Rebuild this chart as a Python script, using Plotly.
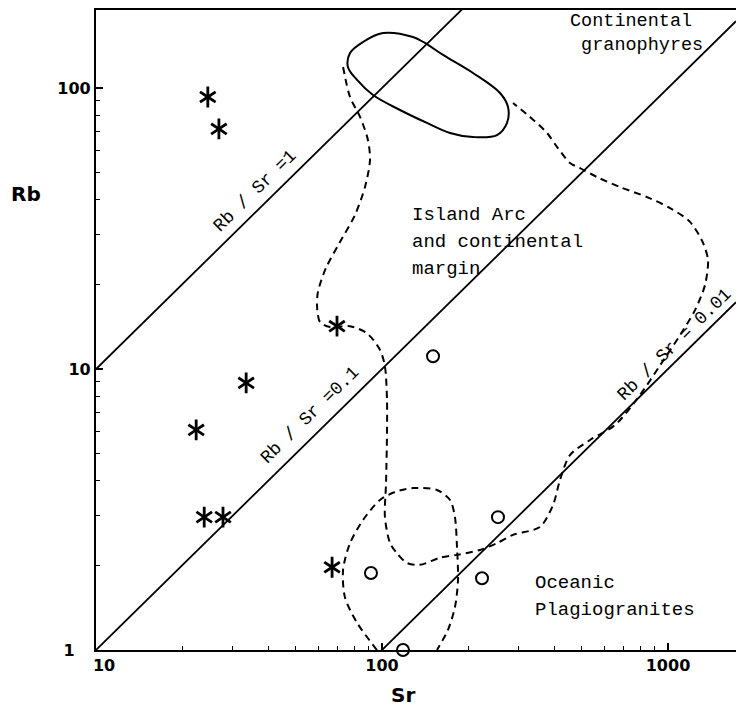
import plotly.graph_objects as go

# ---- data -------------------------------------------------------------
# Granite samples plotted as asterisks (Sr, Rb in ppm)
star_sr = [24.6, 26.9, 69.6, 33.5, 22.4, 23.9, 27.8, 66.9]
star_rb = [92.9, 71.5, 14.2, 8.92, 6.07, 2.97, 2.97, 1.97]

# Samples plotted as open circles
circ_sr = [150.8, 91.5, 254.4, 223.7, 118.4]
circ_rb = [11.1, 1.88, 2.97, 1.80, 1.00]

# Constant Rb/Sr reference lines
ratios = [1, 0.1, 0.01]
ratio_labels = ["Rb / Sr =1", "Rb / Sr =0.1", "Rb / Sr = 0.01"]

# Axis ticks
x_ticks = [10, 100, 1000]
x_tick_text = ["\u2002\u200210", "100", "1000"]
y_ticks = [1, 10, 100]
y_tick_text = ["1\u2002\u2002", "10", "100"]

# Field outline: continental granophyres (closed, solid)
gran_sr = [100.8, 128.3, 141.3, 163.5, 208.1, 258.6, 275.8, 273.6, 252.5, 208.1,
           172.9, 143.6, 115.6, 93.0, 81.8, 76.0, 77.3, 85.8, 100.8]
gran_rb = [156.9, 151.9, 144.6, 131.1, 113.1, 96.0, 85.6, 75.1, 68.0, 66.9,
           69.2, 75.1, 83.5, 94.4, 106.8, 118.8, 133.2, 145.8, 156.9]

# Field outline: island arc and continental margin (dashed)
arc_sr = [73.1, 77.3, 83.8, 89.3, 90.8, 87.2, 80.4, 71.3, 63.7, 59.7, 59.3, 60.7,
          65.8, 77.3, 88.6, 98.4, 102.4, 104.1, 104.1, 103.3, 102.4, 106.7, 112.8,
          122.3, 135.8, 159.5, 182.9, 220.1, 252.5, 287.1, 356.7, 396.2, 419.2,
          454.3, 533.8, 652.8, 798.1, 937.6, 1101.6, 1243, 1347, 1380, 1326, 1194,
          1016, 844.6, 679.5, 564.6, 492.5, 454.3, 409.2, 377.6, 329.2, 287.1]
arc_rb = [118.8, 92.9, 78.9, 65.3, 55.4, 44.4, 35.3, 28.3, 22.9, 18.8, 16.6, 14.7,
          14.1, 14.2, 13.4, 11.7, 10.2, 7.76, 5.92, 3.93, 2.97, 2.40, 2.21,
          2.04, 2.01, 2.13, 2.18, 2.27, 2.40, 2.57, 2.74, 3.28, 4.03,
          4.94, 5.59, 6.32, 8.08, 10.3, 13.2, 16.2, 19.9, 24.4, 28.1, 33.4,
          37.4, 40.9, 44.4, 48.2, 51.9, 54.1, 61.7, 69.2, 78.9, 88.4]

# Field outline: oceanic plagiogranites (dashed, open at the axis)
ocean_sr = [96.0, 81.8, 74.2, 73.1, 77.3, 85.8, 98.4, 111.0, 128.3, 155.7,
            172.9, 179.9, 182.9, 184.4, 179.9, 170.1, 155.7]
ocean_rb = [1.00, 1.25, 1.54, 1.93, 2.40, 2.90, 3.42, 3.65, 3.77, 3.71,
            3.42, 2.97, 2.33, 1.77, 1.42, 1.18, 1.00]

# ---- layout constants ------------------------------------------------------
W, H = 736, 711
ML, MR, MT, MB = 96, 0, 10, 61
PW, PH = W - ML - MR, H - MT - MB
X_DEC, Y_DEC = 286.0, 281.0          # pixels per decade
XR = [1, 1 + PW / X_DEC]
YR = [0, PH / Y_DEC]

MONO = "Liberation Mono"
SANS = "DejaVu Sans"


def px(x, y):
    """pixel position inside the figure -> paper coordinates"""
    return (x - ML) / PW, (H - MB - y) / PH


fig = go.Figure()

# reference lines
sr_end = [10, 10 ** XR[1]]
for r in ratios:
    fig.add_trace(go.Scatter(x=sr_end, y=[r * s for s in sr_end], mode="lines",
                             line=dict(color="black", width=1.8),
                             hoverinfo="skip", showlegend=False))

# field outlines
fig.add_trace(go.Scatter(x=gran_sr, y=gran_rb, mode="lines",
                         line=dict(color="black", width=2, shape="spline", smoothing=1),
                         showlegend=False))
for xs, ys in [(arc_sr, arc_rb), (ocean_sr, ocean_rb)]:
    fig.add_trace(go.Scatter(x=xs, y=ys, mode="lines",
                             line=dict(color="black", width=2, dash="7px,5px",
                                       shape="spline", smoothing=0.8),
                             showlegend=False))

# asterisks: two three-armed markers overlaid make a six-armed star
for sym in ["y-up-open", "y-down-open"]:
    fig.add_trace(go.Scatter(x=star_sr, y=star_rb, mode="markers", cliponaxis=False,
                             marker=dict(symbol=sym, size=13, color="black",
                                         line=dict(color="black", width=2.8)),
                             showlegend=False))

fig.add_trace(go.Scatter(x=circ_sr, y=circ_rb, mode="markers", cliponaxis=False,
                         marker=dict(symbol="circle-open", size=12, color="black",
                                     line=dict(color="black", width=2)),
                         showlegend=False))

# ---- text ------------------------------------------------------------------
ann = []


def text(s, x, y, size=19, anchor="left", angle=0, font=MONO, weight="normal"):
    xp, yp = px(x, y)
    ann.append(dict(text=s, x=xp, y=yp, xref="paper", yref="paper",
                    xanchor=anchor, yanchor="middle", showarrow=False,
                    textangle=angle, align="left",
                    font=dict(family=font, size=size, color="black", weight=weight)))


text("Continental<br>\u00a0granophyres", 568, 34, size=18.5)
text("Island Arc", 410, 215)
text("and continental", 410, 242)
text("margin", 410, 269)
text("Oceanic", 533, 583)
text("Plagiogranites", 533, 610)

for lab, (cx, cy) in zip(ratio_labels, [(255, 191), (310, 415), (674, 345)]):
    text(lab, cx, cy, size=18, anchor="center", angle=-44.5)

text("Rb", 26, 194, size=20, anchor="center", font=SANS, weight="bold")
text("Sr", 403, 695, size=20, anchor="center", font=SANS, weight="bold")

axis_common = dict(type="log", showgrid=False, zeroline=False, showline=True,
                   linecolor="black", linewidth=2.2, ticks="inside", ticklen=7,
                   tickwidth=1.5, tickcolor="black",
                   tickfont=dict(family=SANS, size=16, color="black", weight="bold"),
                   minor=dict(ticks="inside", ticklen=4, tickwidth=1.2,
                              tickcolor="black", dtick="D1", showgrid=False))

fig.update_xaxes(range=XR, mirror=True, tickvals=x_ticks, ticktext=x_tick_text,
                 **axis_common)
fig.update_yaxes(range=YR, tickvals=y_ticks, ticktext=y_tick_text, **axis_common)

fig.update_layout(width=W, height=H, margin=dict(l=ML, r=MR, t=MT, b=MB),
                  plot_bgcolor="white", paper_bgcolor="white",
                  annotations=ann, showlegend=False)

fig.write_html("out.html")
